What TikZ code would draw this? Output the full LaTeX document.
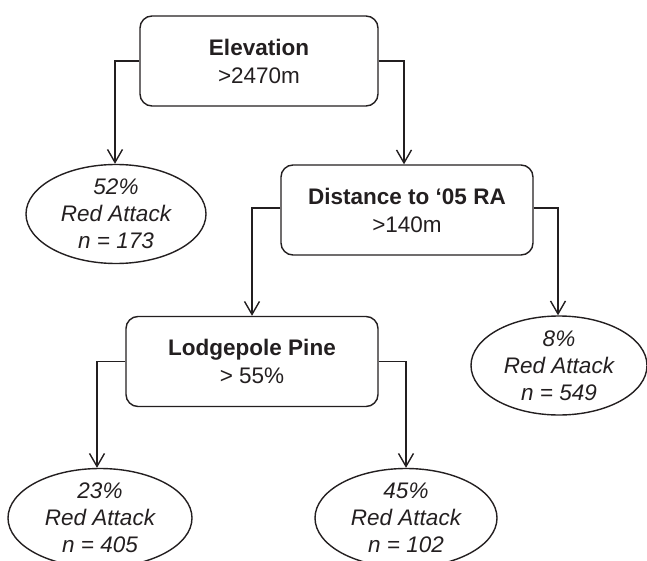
\documentclass[tikz,border=0pt]{standalone}
\usepackage{fontspec}
\setmainfont{Liberation Sans}
\usetikzlibrary{shapes.geometric,arrows.meta}
\definecolor{ink}{HTML}{231F20}
\begin{document}
\begin{tikzpicture}[x=1pt,y=-1pt,
  every node/.style={text=ink},
  splitbox/.style={draw=ink, line width=1.4pt, rounded corners=12pt, inner sep=0pt,
    minimum width=#1, minimum height=90pt, align=center,
    font=\fontsize{22.5pt}{28pt}\selectfont},
  splitbox/.default=252pt,
  leaf/.style={draw=ink, line width=1.4pt, ellipse, inner sep=0pt, minimum width=#1, minimum height=99pt},
  leaf/.default=180pt,
  leaftext/.style={align=center, inner sep=0pt, font=\fontsize{22.5pt}{27pt}\selectfont\itshape},
  conn/.style={draw=ink, line width=1.4pt, -{Straight Barb[length=13pt,width=15pt,line width=1.4pt]}}
]
\useasboundingbox (0,0) rectangle (647,561);

\node[splitbox=238pt] (elev) at (259,61) {\textbf{Elevation}\\>2470m};
\node[splitbox] (dist) at (407,210) {\textbf{Distance to ‘05 RA}\\>140m};
\node[splitbox] (lodge) at (252,361.5) {\textbf{Lodgepole Pine}\\> 55\%};

\node[leaf=180pt, label={[leaftext]center:{52\%\\Red Attack\\n = 173}}] (e1) at (116,214) {};
\node[leaf=176pt, label={[leaftext]center:{8\%\\Red Attack\\n = 549}}] (e2) at (559,365.5) {};
\node[leaf=184pt, label={[leaftext]center:{23\%\\Red Attack\\n = 405}}] (e3) at (100,518) {};
\node[leaf=182pt, label={[leaftext]center:{45\%\\Red Attack\\n = 102}}] (e4) at (406,518) {};

\draw[conn] (elev.west) -| ([xshift=-1pt]e1.north);
\draw[conn] (elev.east) -| ([xshift=-3pt]dist.north);
\draw[conn] ([yshift=2pt]dist.west) -| (lodge.north);
\draw[conn] ([yshift=2pt]dist.east) -| ([xshift=-1pt]e2.north);
\draw[conn] (lodge.west) -| ([xshift=-3pt]e3.north);
\draw[conn] (lodge.east) -| (e4.north);
\end{tikzpicture}
\end{document}
